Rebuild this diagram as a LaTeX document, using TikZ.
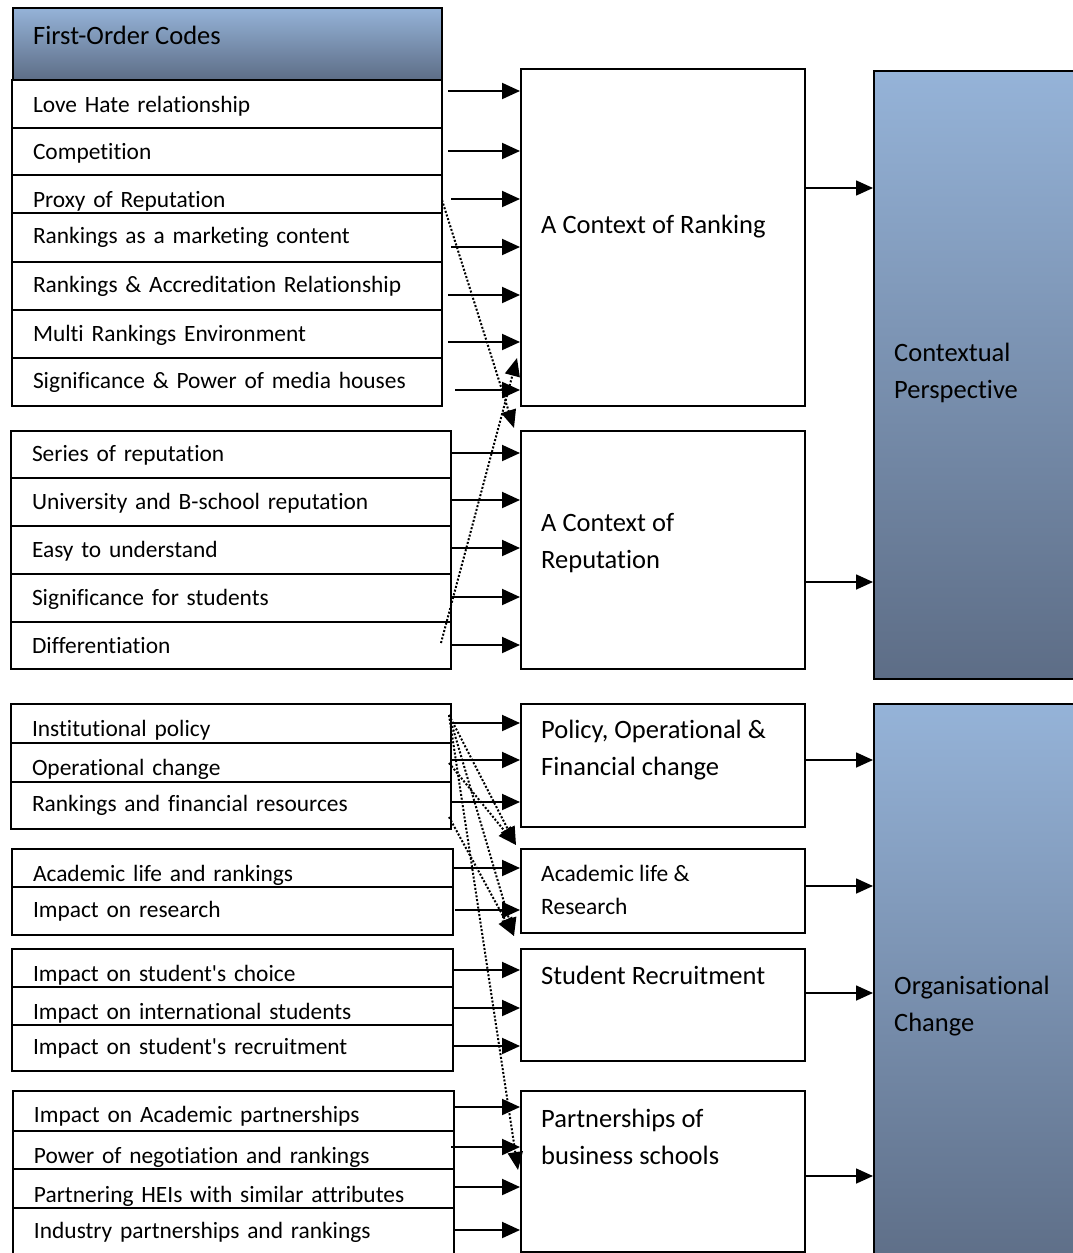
\documentclass[tikz,border=0pt]{standalone}
\usepackage{fontspec}
\setmainfont{Carlito}[Ligatures={NoCommon}]
\usetikzlibrary{arrows.meta}

\definecolor{gradtop}{RGB}{149,179,216}
\definecolor{gradbot}{RGB}{93,109,134}

\newcommand\codefont{\fontsize{23.4}{28}\selectfont}
\newcommand\themefont{\fontsize{26.5}{37}\selectfont}
\newcommand\themesmall{\fontsize{23.5}{33}\selectfont}
\newcommand\apos{\textquotesingle}

\tikzset{
  rowbox/.style={draw, line width=2pt, fill=white, anchor=north west,
    inner xsep=21pt, inner ysep=0pt, align=left, font=\codefont},
  wA/.style={text width=388pt},
  wB/.style={text width=398pt},
  wC/.style={text width=399pt},
  themebox/.style={draw, line width=2pt, fill=white, anchor=north west,
    minimum width=284pt, inner sep=0pt},
  catbox/.style={draw, line width=2pt, anchor=north west, inner sep=0pt,
    top color=gradtop, bottom color=gradbot},
  lbl/.style={anchor=west, align=left, inner sep=0pt, font=\themefont},
  feed/.style={line width=2pt, -{Triangle[length=18pt,width=16pt]}},
  link/.style={line width=1.6pt, -{Triangle[length=17pt,width=15pt]}},
  cross/.style={line width=2pt, dash pattern=on 2pt off 1.8pt,
    -{Triangle[length=18pt,width=15pt]}}
}

\begin{document}
\begin{tikzpicture}[x=1pt, y=-1pt]
\useasboundingbox (0,0) rectangle (1073,1253);
\clip (0,0) rectangle (1073,1253);

% header
\node[catbox, minimum width=429pt, minimum height=72pt] (hdr) at (12,7) {};
\node[lbl] (hdrt) at (33,35) {First-Order Codes};

% category boxes on the right
\node[catbox, minimum width=230pt, minimum height=608pt] (ctx) at (873,70) {};
\node[lbl] (ctxt) at (894,372.5) {Contextual\\Perspective};
\node[catbox, minimum width=230pt, minimum height=570pt] (org) at (873,703) {};
\node[lbl] (orgt) at (894,1006) {Organisational\\Change};

% themes
\node[themebox, minimum height=337pt] (rank) at (520,68) {};
\node[lbl] (rankt) at (541,227) {A Context of Ranking};
\node[themebox, minimum height=238pt] (repu) at (520,430) {};
\node[lbl] (reput) at (541,543.5) {A Context of\\Reputation};
\node[themebox, minimum height=123pt] (poli) at (520,703) {};
\node[lbl] (polit) at (541,750.5) {Policy, Operational \&\\Financial change};
\node[themebox, minimum height=84pt] (acad) at (520,848) {};
\node[lbl, font=\themesmall] (acadt) at (541,889.5) {Academic life \&\\Research};
\node[themebox, minimum height=112pt] (stud) at (520,948) {};
\node[lbl] (studt) at (541,975) {Student Recruitment};
\node[themebox, minimum height=161pt] (part) at (520,1090) {};
\node[lbl] (partt) at (541,1136.5) {Partnerships of\\business schools};

% first-order codes: context of ranking
\node[rowbox, wA, minimum height=52pt] (a1) at (11,79) {Love Hate relationship};
\node[rowbox, wA, minimum height=51pt] (a2) at (11,127) {Competition};
\node[rowbox, wA, minimum height=52pt] (a3) at (11,174) {Proxy of Reputation};
\node[rowbox, wA, minimum height=49pt] (a4) at (11,212) {Rankings as a marketing content};
\node[rowbox, wA, minimum height=48pt] (a5) at (11,261) {Rankings \& Accreditation Relationship};
\node[rowbox, wA, minimum height=50pt] (a6) at (11,309) {Multi Rankings Environment};
\node[rowbox, wA, minimum height=48pt] (a7) at (11,357) {Significance \& Power of media houses};

% first-order codes: context of reputation
\node[rowbox, wB, minimum height=49pt] (b1) at (10,430) {Series of reputation};
\node[rowbox, wB, minimum height=50pt] (b2) at (10,477) {University and B-school reputation};
\node[rowbox, wB, minimum height=50pt] (b3) at (10,525) {Easy to understand};
\node[rowbox, wB, minimum height=50pt] (b4) at (10,573) {Significance for students};
\node[rowbox, wB, minimum height=47pt] (b5) at (10,621) {Differentiation};

% first-order codes: policy, operational and financial change
\node[rowbox, wB, minimum height=52pt] (c1) at (10,703) {Institutional policy};
\node[rowbox, wB, minimum height=52pt] (c2) at (10,742) {Operational change};
\node[rowbox, wB, minimum height=47pt] (c3) at (10,781) {Rankings and financial resources};

% first-order codes: academic life and research
\node[rowbox, wC, minimum height=52pt] (d1) at (11,848) {Academic life and rankings};
\node[rowbox, wC, minimum height=48pt] (d2) at (11,886) {Impact on research};

% first-order codes: student recruitment
\node[rowbox, wC, minimum height=52pt] (e1) at (11,948) {Impact on student\apos s choice};
\node[rowbox, wC, minimum height=52pt] (e2) at (11,986) {Impact on international students};
\node[rowbox, wC, minimum height=46pt] (e3) at (11,1024) {Impact on student\apos s recruitment};

% first-order codes: partnerships
\node[rowbox, wC, minimum height=50pt] (f1) at (12,1090) {Impact on Academic partnerships};
\node[rowbox, wC, minimum height=52pt] (f2) at (12,1130) {Power of negotiation and rankings};
\node[rowbox, wC, minimum height=54pt] (f3) at (12,1168) {Partnering HEIs with similar attributes};
\node[rowbox, wC, minimum height=48pt] (f4) at (12,1207) {Industry partnerships and rankings};

% arrow starts
\coordinate (sa1) at (448,91);
\coordinate (sa2) at (448,151);
\coordinate (sa3) at (451,199);
\coordinate (sa4) at (451,247);
\coordinate (sa5) at (448,295);
\coordinate (sa6) at (448,342);
\coordinate (sa7) at (455,390);
\coordinate (sb1) at (450,453);
\coordinate (sb2) at (450,500);
\coordinate (sb3) at (450,548);
\coordinate (sb4) at (450,597);
\coordinate (sb5) at (450,645);
\coordinate (sc1) at (450,723);
\coordinate (sc2) at (450,760);
\coordinate (sc3) at (450,802);
\coordinate (sd1) at (452,868);
\coordinate (sd2) at (455,910);
\coordinate (se1) at (453,970);
\coordinate (se2) at (453,1008);
\coordinate (se3) at (453,1046);
\coordinate (sf1) at (453,1107);
\coordinate (sf2) at (451,1147);
\coordinate (sf3) at (453,1187);
\coordinate (sf4) at (453,1230);

\foreach \s in {sa1,sa2,sa3,sa4,sa5,sa6,sa7}
  \draw[feed] (\s) -- (\s -| rank.west);
\foreach \s in {sb1,sb2,sb3,sb4,sb5}
  \draw[feed] (\s) -- (\s -| repu.west);
\foreach \s in {sc1,sc2,sc3}
  \draw[feed] (\s) -- (\s -| poli.west);
\foreach \s in {sd1,sd2}
  \draw[feed] (\s) -- (\s -| acad.west);
\foreach \s in {se1,se2,se3}
  \draw[feed] (\s) -- (\s -| stud.west);
\foreach \s in {sf1,sf2,sf3,sf4}
  \draw[feed] (\s) -- (\s -| part.west);

% themes into categories
\coordinate (orank) at (804,188);
\coordinate (orepu) at (804,582);
\coordinate (opoli) at (804,760);
\coordinate (oacad) at (804,886);
\coordinate (ostud) at (804,993);
\coordinate (opart) at (804,1176);
\foreach \s in {orank,orepu}
  \draw[link] (\s) -- (\s -| ctx.west);
\foreach \s in {opoli,oacad,ostud,opart}
  \draw[link] (\s) -- (\s -| org.west);

% cross links
\coordinate (xa3) at (442,200);
\coordinate (xb5) at (441,643);
\coordinate (ta) at (514,428);
\coordinate (tb) at (517,358);
\draw[cross] (xa3) -- (ta);
\draw[cross] (xb5) -- (tb);

\coordinate (xc1) at (449,715);
\coordinate (xc2) at (449,763);
\coordinate (xc3) at (449,817);
\coordinate (tacad) at (516,845);
\coordinate (tstud) at (514,936);
\coordinate (tpart) at (518,1170);
\draw[cross] (xc1) -- (tpart);
\draw[cross] (xc1) -- (tstud);
\draw[cross] (xc1) -- (tacad);
\draw[cross] (xc2) -- (tacad);
\draw[cross] (xc3) -- (tstud);
\end{tikzpicture}
\end{document}
